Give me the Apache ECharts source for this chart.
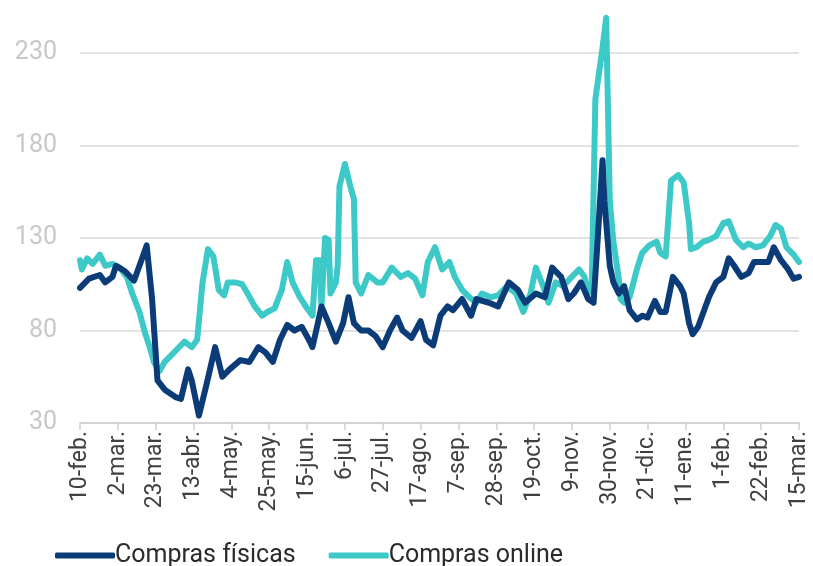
<!DOCTYPE html>
<html>
<head>
<meta charset="utf-8">
<script src="https://cdn.jsdelivr.net/npm/echarts@6/dist/echarts.min.js"></script>
<style>
  html, body { margin: 0; padding: 0; background: #fff; }
  #chart { width: 813px; height: 566px; }
</style>
</head>
<body>
<div id="chart"></div>
<script>
  // etiquetas del eje x, una cada 21 días desde el 10-feb
  const tickLabels = ['10-feb.', '2-mar.', '23-mar.', '13-abr.', '4-may.', '25-may.', '15-jun.',
    '6-jul.', '27-jul.', '17-ago.', '7-sep.', '28-sep.', '19-oct.', '9-nov.', '30-nov.',
    '21-dic.', '11-ene.', '1-feb.', '22-feb.', '15-mar.']
  const yTicks = [30, 80, 130, 180, 230]

  // [día desde el 10-feb, índice]
  const fisicas = [[0,103],[5,108],[11,110],[14,106],[18,109],[20,115],[25,112],[30,107],[33,115],
    [37,126],[40,97],[43,53],[47,48],[53,44],[56,43],[60,59],[62,53],[66,34],[70,50],[75,71],
    [79,55],[83,59],[89,64],[94,63],[99,71],[103,68],[107,63],[111,75],[115,83],[119,80],[123,82],
    [127,75],[129,71],[132,84],[134,93],[138,84],[142,74],[146,84],[149,98],[152,84],[156,80],
    [160,80],[164,77],[168,71],[172,80],[176,87],[179,80],[184,76],[189,85],[192,75],[196,72],
    [200,88],[204,93],[207,91],[212,97],[217,88],[220,97],[227,95],[232,93],[238,106],[243,102],
    [247,95],[253,100],[258,98],[262,114],[267,109],[271,97],[274,100],[278,106],[282,97],[285,95],
    [287,125],[290,172],[291,150],[294,115],[296,106],[299,100],[302,104],[305,91],[309,86],
    [312,88],[315,87],[319,96],[322,90],[325,90],[329,109],[333,104],[335,100],[338,84],[340,78],
    [343,82],[346,90],[349,98],[353,106],[357,109],[360,119],[363,115],[367,109],[371,111],
    [374,117],[378,117],[382,117],[385,125],[389,118],[393,113],[396,108],[399,109]]

  const online = [[0,118],[1,113],[4,119],[7,116],[11,121],[14,115],[18,116],[22,114],[26,109],
    [29,100],[33,90],[36,79],[39,70],[41,63],[44,58],[47,63],[51,67],[54,70],[58,74],[62,71],
    [65,75],[68,106],[71,124],[74,120],[77,102],[80,99],[82,106],[86,106],[90,105],[93,100],
    [97,93],[101,88],[104,90],[108,92],[112,102],[115,117],[118,106],[122,98],[126,92],[129,88],
    [130,88],[131,118],[133,118],[134,93],[136,130],[138,129],[139,100],[142,106],[143,115],
    [144,158],[147,170],[150,158],[152,151],[153,106],[156,100],[160,110],[165,106],[168,106],
    [173,114],[178,109],[182,111],[186,108],[190,99],[193,117],[197,125],[201,113],[205,117],
    [208,109],[212,102],[216,98],[220,95],[223,100],[228,98],[232,99],[237,104],[242,100],
    [246,90],[250,100],[253,114],[257,104],[260,95],[264,106],[268,104],[272,108],[277,113],
    [280,109],[282,100],[284,104],[286,205],[290,233],[292,249],[294,150],[296,128],[299,108],
    [300,97],[302,95],[305,98],[309,113],[312,122],[316,126],[320,128],[322,122],[325,120],
    [328,161],[332,164],[335,160],[338,138],[339,124],[342,125],[346,128],[349,129],[353,131],
    [357,138],[360,139],[364,129],[368,125],[371,127],[375,125],[379,126],[383,131],[386,137],
    [389,135],[392,125],[396,121],[399,117]]

  const chart = echarts.init(document.getElementById('chart'))
  const font = 'Roboto, "Liberation Sans", Arial, sans-serif'

  chart.setOption({
    animation: false,
    grid: { left: 80, right: 14, top: 16, bottom: 143 },
    legend: {
      left: 50,
      top: 538,
      itemWidth: 60,
      itemHeight: 6,
      itemGap: 33,
      icon: 'roundRect',
      data: ['Compras físicas', 'Compras online'],
      textStyle: { fontSize: 25, color: '#2b2b2b', fontFamily: font, padding: [0, 0, 0, -5] }
    },
    xAxis: {
      type: 'value',
      min: 0,
      max: 399,
      interval: 21,
      axisLine: { lineStyle: { color: '#d0d0d0', width: 1.5 } },
      axisTick: { show: true, length: 7, lineStyle: { color: '#d0d0d0', width: 1.5 } },
      splitLine: { show: false },
      axisLabel: {
        rotate: 90,
        margin: 8,
        fontSize: 23,
        color: '#404040',
        fontFamily: font,
        formatter: v => tickLabels[Math.round(v / 21)]
      }
    },
    yAxis: {
      type: 'value',
      min: 30,
      max: 250,
      axisLine: { show: false },
      axisTick: { show: false, customValues: yTicks },
      splitLine: { lineStyle: { color: '#d9d9d9', width: 1.5 } },
      axisLabel: {
        customValues: yTicks,
        margin: 23,
        fontSize: 25,
        color: '#c8c8c8',
        fontFamily: font
      }
    },
    series: [
      {
        name: 'Compras físicas',
        type: 'line',
        data: fisicas,
        showSymbol: false,
        z: 3,
        itemStyle: { color: '#0b3c78' },
        lineStyle: { color: '#0b3c78', width: 6, cap: 'round', join: 'round' }
      },
      {
        name: 'Compras online',
        type: 'line',
        data: online,
        showSymbol: false,
        z: 2,
        itemStyle: { color: '#3cc9c8' },
        lineStyle: { color: '#3cc9c8', width: 6, cap: 'round', join: 'round' }
      }
    ]
  })
</script>
</body>
</html>
